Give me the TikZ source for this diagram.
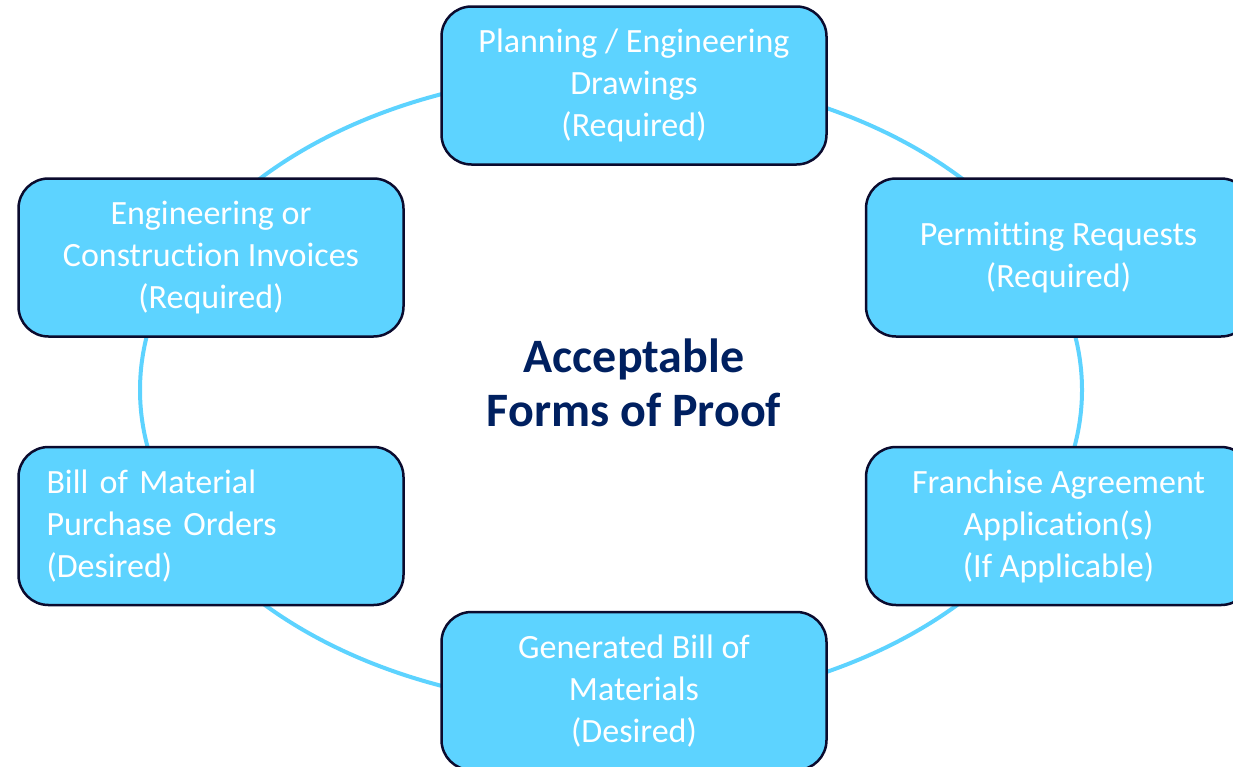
\documentclass[tikz,border=0pt]{standalone}
\usepackage{fontspec}
\setmainfont{Carlito}[Ligatures=NoCommon]
\definecolor{boxblue}{HTML}{5DD3FF}
\definecolor{rimnavy}{HTML}{0B0B2E}
\definecolor{titlenavy}{HTML}{002060}
\begin{document}
\begin{tikzpicture}[x=1pt,y=-1pt,
	proofbox/.style={draw=rimnavy, line width=2.5pt, fill=boxblue, rounded corners=30pt,
		minimum width=385pt, minimum height=158pt, text=white, align=center,
		font=\fontsize{34}{42}\selectfont},
	ring/.style={draw=boxblue, line width=4pt},
	titletext/.style={text=titlenavy, align=center, font=\bfseries\fontsize{48}{54}\selectfont}]
				\useasboundingbox (0,0) rectangle (1233,766);
				\coordinate (O) at (611, 390);
				
				\draw[ring] (O) ellipse [x radius=471, y radius=317];
				
				\node[titletext] (title) at (634, 383) {Acceptable\\Forms of Proof};
				
				\node[proofbox] (plan) at (634, 85.5) {Planning / Engineering\\Drawings\\(Required)};
				\node[proofbox] (invoice) at (211, 257.5) {Engineering or\\Construction Invoices\\(Required)};
				\node[proofbox] (permit) at (1058.5, 257.5) {Permitting Requests\\(Required)};
				\node[proofbox, align=left, text width=329pt, inner xsep=28pt] (purchase) at (211, 526) {Bill of Material\\Purchase Orders\\(Desired)};
				\node[proofbox] (franchise) at (1058.5, 526) {Franchise Agreement\\Application(s)\\(If Applicable)};
				\node[proofbox] (bom) at (634, 691) {Generated Bill of\\Materials\\(Desired)};
				\end{tikzpicture}
\end{document}
